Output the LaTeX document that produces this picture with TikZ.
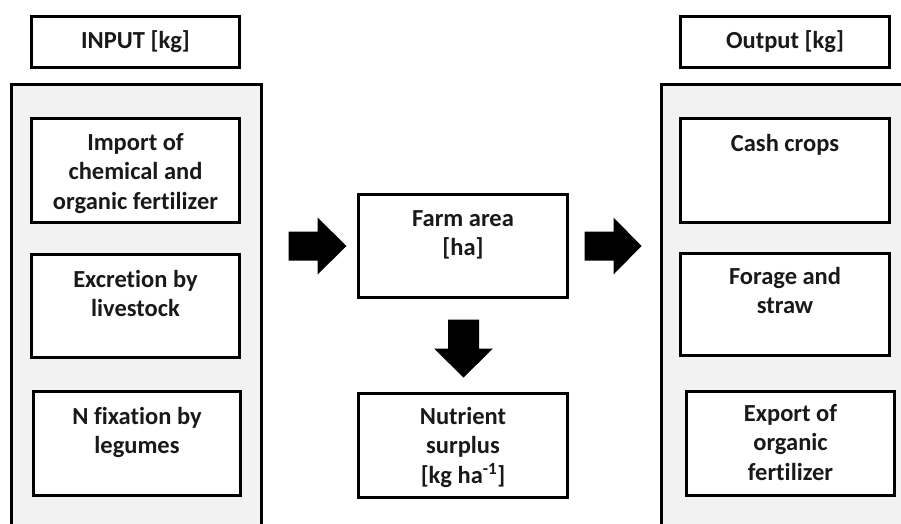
\documentclass[tikz,border=0pt]{standalone}
\usepackage{fontspec}
\setmainfont{Carlito}[RawFeature={-liga}]
\usetikzlibrary{calc}
\definecolor{panelgray}{HTML}{F2F2F2}
\tikzset{
  boxline/.style={draw=black, line width=3pt},
  box/.style={boxline, fill=white, inner sep=0pt},
  lbl/.style={inner sep=0pt, align=center, font=\bfseries\fontsize{24.5}{29.5}\selectfont, text=black!90},
  blockarrow/.style={fill=black, draw=none},
}
\begin{document}
\begin{tikzpicture}[x=1pt, y=-1pt]
\useasboundingbox (0,0) rectangle (901,523);
\clip (0,0) rectangle (901,523);
\fill[white] (0,0) rectangle (901,523);
% panels
\fill[panelgray] (11.5,84.5) rectangle (261.5,540);
\draw[boxline] (11.5,540) -- (11.5,84.5) -- (261.5,84.5) -- (261.5,540);
\fill[panelgray] (661.5,84.5) rectangle (920,540);
\draw[boxline] (661.5,540) -- (661.5,84.5) -- (920,84.5);
% header boxes
\node[box, minimum width=208pt, minimum height=51pt, lbl] (input) at (135.5,42) {INPUT [kg]};
\node[box, minimum width=209pt, minimum height=51pt, lbl] (output) at (785,42) {Output [kg]};
% input boxes
\node[box, minimum width=208pt, minimum height=104pt] (import) at (135.5,170.5) {};
\node[box, minimum width=208pt, minimum height=103pt] (excr) at (135.5,306) {};
\node[box, minimum width=207pt, minimum height=104pt] (nfix) at (137,443.5) {};
% centre boxes
\node[box, minimum width=209pt, minimum height=103pt] (farm) at (463,246) {};
\node[box, minimum width=209pt, minimum height=104pt] (nutr) at (463,445.5) {};
% output boxes
\node[box, minimum width=209pt, minimum height=104pt] (cash) at (785,170.5) {};
\node[box, minimum width=209pt, minimum height=102pt] (forage) at (785,304.5) {};
\node[box, minimum width=208pt, minimum height=104pt] (export) at (790.5,443.5) {};
% texts
\node[lbl, anchor=north] (importt) at ($(import.north)+(0,16)$) {Import of\\chemical and\\organic fertilizer};
\node[lbl, anchor=north] (excrt) at ($(excr.north)+(0,17)$) {Excretion by\\livestock};
\node[lbl, anchor=north] (nfixt) at ($(nfix.north)+(0,17)$) {N fixation by\\legumes};
\node[lbl, anchor=north] (farmt) at ($(farm.north)+(0,17)$) {Farm area\\{[ha]}};
\node[lbl, anchor=north] (nutrt) at ($(nutr.north)+(0,15)$) {Nutrient\\surplus\\{[kg ha\textsuperscript{-1}]}};
\node[lbl, anchor=north] (casht) at ($(cash.north)+(0,17)$) {Cash crops};
\node[lbl, anchor=north] (foraget) at ($(forage.north)+(0,15)$) {Forage and\\straw};
\node[lbl, anchor=north] (exportt) at ($(export.north)+(0,14)$) {Export of\\organic\\fertilizer};
% block arrows
\coordinate (t1) at ($(farm.west)+(-10.5,0)$);
\fill[blockarrow] ($(t1)+(-58,-14.5)$) -- ($(t1)+(-29,-14.5)$) -- ($(t1)+(-29,-28.5)$) -- (t1)
  -- ($(t1)+(-29,28.5)$) -- ($(t1)+(-29,14.5)$) -- ($(t1)+(-58,14.5)$) -- cycle;
\coordinate (t2) at ($(farm.east)+(72.5,0)$);
\fill[blockarrow] ($(t2)+(-57,-14.5)$) -- ($(t2)+(-28,-14.5)$) -- ($(t2)+(-28,-28.5)$) -- (t2)
  -- ($(t2)+(-28,28.5)$) -- ($(t2)+(-28,14.5)$) -- ($(t2)+(-57,14.5)$) -- cycle;
\coordinate (t3) at ($(nutr.north)+(0.5,-14.5)$);
\fill[blockarrow] ($(t3)+(-15.5,-58)$) -- ($(t3)+(-15.5,-29)$) -- ($(t3)+(-29.5,-29)$) -- (t3)
  -- ($(t3)+(29.5,-29)$) -- ($(t3)+(15.5,-29)$) -- ($(t3)+(15.5,-58)$) -- cycle;
\end{tikzpicture}
\end{document}
